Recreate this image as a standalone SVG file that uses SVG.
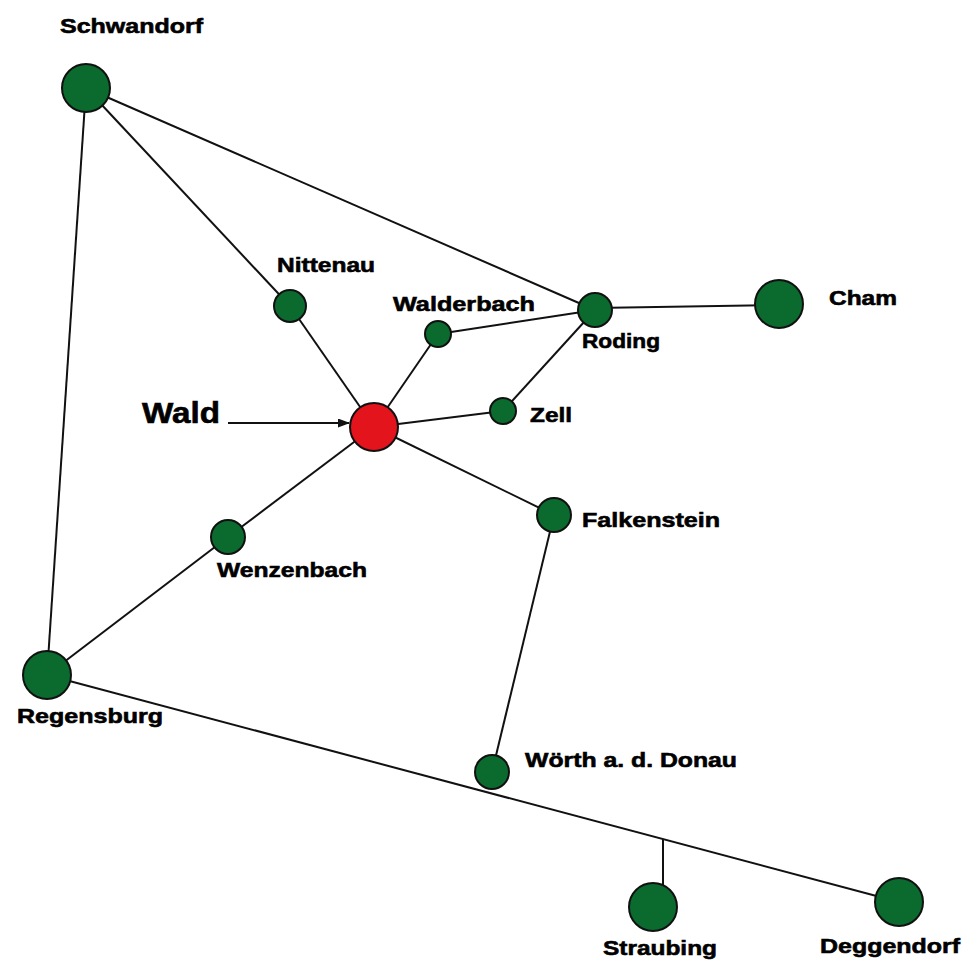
<svg xmlns="http://www.w3.org/2000/svg" width="965" height="966" viewBox="0 0 965 966">
<defs>
<style>
.e{stroke:#111;stroke-width:2;fill:none}
.n{fill:#0b6a2e;stroke:#111;stroke-width:2}
.w{fill:#e3141c;stroke:#111;stroke-width:2}
.t{font-family:"Liberation Sans",Arial,sans-serif;font-weight:bold;font-size:21px;fill:#000;stroke:#000;stroke-width:0.6}
.big{font-size:29px}
</style>
<marker id="arr" markerWidth="12" markerHeight="9" refX="11" refY="4.5" orient="auto" markerUnits="userSpaceOnUse">
<path d="M0,0 L12,4.5 L0,9 Z" fill="#111"/>
</marker>
</defs>
<rect width="965" height="966" fill="#fff"/>
<g id="connectors">
<line class="e" x1="86" y1="88" x2="47" y2="675"/>
<line class="e" x1="86" y1="88" x2="290" y2="306"/>
<line class="e" x1="86" y1="88" x2="595" y2="310"/>
<line class="e" x1="290" y1="306" x2="374" y2="427"/>
<line class="e" x1="374" y1="427" x2="438" y2="334"/>
<line class="e" x1="438" y1="334" x2="595" y2="310"/>
<line class="e" x1="595" y1="308" x2="779" y2="305"/>
<line class="e" x1="595" y1="310" x2="503" y2="411"/>
<line class="e" x1="374" y1="427" x2="503" y2="411"/>
<line class="e" x1="374" y1="427" x2="554" y2="515"/>
<line class="e" x1="374" y1="427" x2="228" y2="537"/>
<line class="e" x1="228" y1="537" x2="47" y2="675"/>
<line class="e" x1="554" y1="515" x2="492" y2="772"/>
<line class="e" x1="47" y1="675" x2="899" y2="902"/>
<line class="e" x1="663" y1="839" x2="663" y2="885"/>
<line class="e" x1="228" y1="423" x2="349" y2="423" marker-end="url(#arr)"/>
</g>
<g id="schwandorf"><circle class="n" cx="86" cy="88" r="24"/><text class="t" x="60" y="33" textLength="143" lengthAdjust="spacingAndGlyphs">Schwandorf</text></g>
<g id="nittenau"><circle class="n" cx="290" cy="306" r="16"/><text class="t" x="277" y="272" textLength="98" lengthAdjust="spacingAndGlyphs">Nittenau</text></g>
<g id="walderbach"><circle class="n" cx="438" cy="334" r="13"/><text class="t" x="393" y="311" textLength="142" lengthAdjust="spacingAndGlyphs">Walderbach</text></g>
<g id="roding"><circle class="n" cx="595" cy="310" r="17"/><text class="t" x="582" y="348" textLength="78" lengthAdjust="spacingAndGlyphs">Roding</text></g>
<g id="cham"><circle class="n" cx="779" cy="304" r="24"/><text class="t" x="829" y="305" textLength="68" lengthAdjust="spacingAndGlyphs">Cham</text></g>
<g id="zell"><circle class="n" cx="503" cy="411" r="13"/><text class="t" x="530" y="422" textLength="42" lengthAdjust="spacingAndGlyphs">Zell</text></g>
<g id="wald"><circle class="w" cx="374" cy="427" r="24"/><text class="t big" x="142" y="423" textLength="78" lengthAdjust="spacingAndGlyphs">Wald</text></g>
<g id="falkenstein"><circle class="n" cx="554" cy="515" r="17"/><text class="t" x="582" y="527" textLength="138" lengthAdjust="spacingAndGlyphs">Falkenstein</text></g>
<g id="wenzenbach"><circle class="n" cx="228" cy="537" r="17"/><text class="t" x="217" y="577" textLength="150" lengthAdjust="spacingAndGlyphs">Wenzenbach</text></g>
<g id="regensburg"><circle class="n" cx="47" cy="675" r="24"/><text class="t" x="17" y="723" textLength="146" lengthAdjust="spacingAndGlyphs">Regensburg</text></g>
<g id="woerth"><circle class="n" cx="492" cy="772" r="17"/><text class="t" x="525" y="767" textLength="212" lengthAdjust="spacingAndGlyphs">Wörth a. d. Donau</text></g>
<g id="straubing"><circle class="n" cx="653" cy="907" r="24"/><text class="t" x="603" y="955" textLength="114" lengthAdjust="spacingAndGlyphs">Straubing</text></g>
<g id="deggendorf"><circle class="n" cx="899" cy="902" r="24"/><text class="t" x="820" y="953" textLength="140" lengthAdjust="spacingAndGlyphs">Deggendorf</text></g>
</svg>
